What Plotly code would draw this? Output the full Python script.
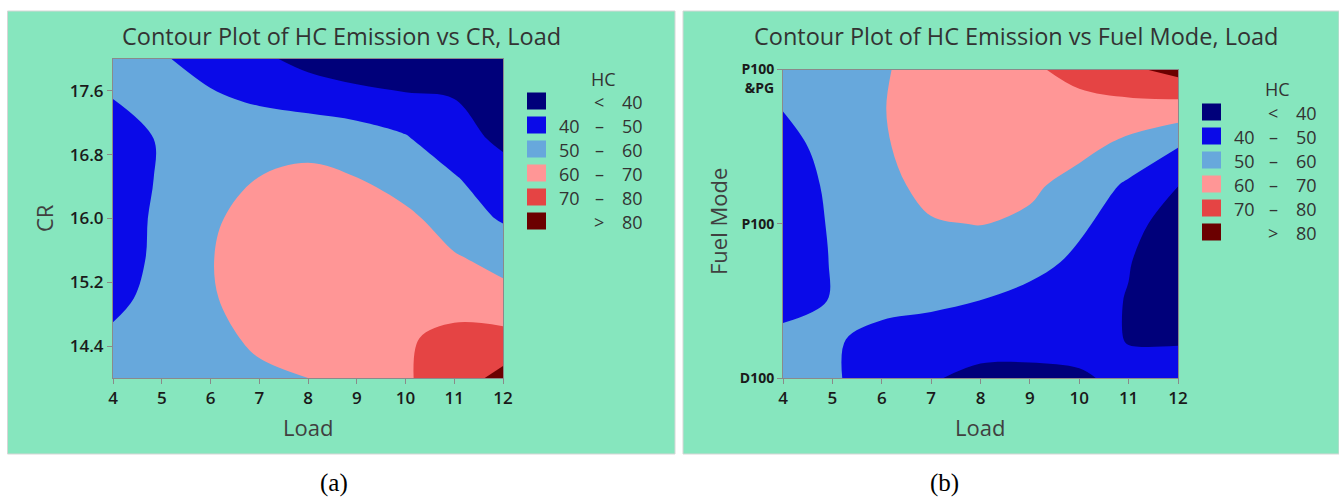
import plotly.graph_objects as go

W, H = 1339, 498

# ---------------- data ----------------
loads = [4, 5, 6, 7, 8, 9, 10, 11, 12]

# (a) HC emission vs CR (rows) and Load (columns)
cr_levels = [14.0, 14.5, 15.0, 15.5, 16.0, 16.5, 17.0, 17.5, 18.0]
hc_cr = [
    [53, 54, 56, 58, 60, 64, 69, 75, 83],
    [52, 55, 57, 62, 66, 68, 69, 72.5, 73],
    [47, 54, 59, 65, 68, 68, 67, 66, 63],
    [44, 53, 59.5, 66, 68, 68, 66, 61, 57],
    [45, 52, 58.5, 64, 66, 65, 62.5, 55, 49],
    [45, 51, 56, 60.2, 62, 60.2, 55, 51, 43],
    [45, 51, 56, 57, 57, 55, 51, 43, 38.5],
    [50, 55, 51.5, 48.5, 46, 44, 42, 40, 36],
    [53, 51, 46, 42, 37, 33, 30, 28, 27],
]

# (b) HC emission vs Fuel Mode (rows, coded 0..2) and Load (columns)
fuel_pos = [0.0, 0.25, 0.5, 0.75, 1.0, 1.25, 1.5, 1.75, 2.0]
hc_fuel = [
    [55, 51, 46, 41, 37, 36, 38.5, 43, 45],
    [53, 51.5, 46, 45, 45, 46, 44.5, 39.5, 39],
    [46, 50.5, 54, 52, 49.9, 46, 44, 39.5, 33],
    [44, 50.5, 55, 57, 57, 54, 47.5, 40.5, 33],
    [44, 51, 55, 59.5, 60.2, 58, 52, 44, 34],
    [44, 52, 58, 62, 63.5, 62, 56, 48.5, 40.2],
    [45, 55, 59, 64, 66, 66, 63, 57, 50.3],
    [50.5, 56, 59.5, 65, 67, 68, 68, 67, 66],
    [55, 57, 59, 64, 67, 69, 72, 78, 83.5],
]

cr_ticks = [14.4, 15.2, 16.0, 16.8, 17.6]
fuel_tickvals = [0, 1, 2]
fuel_ticktext = ["D100", "P100", "<br>P100<br>&PG"]

hc_levels = [40, 50, 60, 70, 80]
band_colors = ["#00007A", "#0A0AE8", "#67A8DC", "#FF9696", "#E54444", "#6B0000"]
legend_lo = ["", "40", "50", "60", "70", ""]
legend_sym = ["<", "–", "–", "–", "–", ">"]
legend_hi = ["40", "50", "60", "70", "80", "80"]

titles = ["Contour Plot of HC Emission vs CR, Load",
          "Contour Plot of HC Emission vs Fuel Mode, Load"]
captions = ["(a)", "(b)"]

# ---------------- helpers ----------------
def fx(px):
    return px / W

def fy(py):
    return 1 - py / H

GREEN = "#86E6BE"
TXT = "#333333"
AXC = "#8a8a8a"
colorscale = [[i / (len(band_colors) - 1), c] for i, c in enumerate(band_colors)]

def contour(x, y, z, xa, ya):
    return go.Contour(
        x=x, y=y, z=z, xaxis=xa, yaxis=ya,
        autocontour=False,
        contours=dict(start=hc_levels[0], end=hc_levels[-1],
                      size=hc_levels[1] - hc_levels[0],
                      coloring="fill", showlines=False),
        line=dict(width=0, smoothing=1.0),
        colorscale=colorscale, showscale=False, hoverinfo="skip",
    )

fig = go.Figure()
fig.add_trace(contour(loads, cr_levels, hc_cr, "x", "y"))
fig.add_trace(contour(loads, fuel_pos, hc_fuel, "x2", "y2"))

tickfont = dict(family="Open Sans", size=17, color="#1a1a1a", weight=600)
axis_common = dict(showline=True, mirror=True, linecolor=AXC, linewidth=1,
                   ticks="outside", ticklen=5, tickcolor=AXC, showgrid=False,
                   zeroline=False, tickfont=tickfont, automargin=False)

fig.update_layout(
    width=W, height=H, margin=dict(l=0, r=0, t=0, b=0, pad=0),
    autosize=False,
    paper_bgcolor="white", plot_bgcolor=GREEN, showlegend=False,
    xaxis=dict(domain=[fx(113), fx(503)], anchor="y", range=[4, 12],
               tickvals=loads, **axis_common),
    yaxis=dict(domain=[fy(378), fy(59)], anchor="x", range=[14, 18],
               tickvals=cr_ticks, tickformat=".1f", **axis_common),
    xaxis2=dict(domain=[fx(783), fx(1178)], anchor="y2", range=[4, 12],
                tickvals=loads, **axis_common),
    yaxis2=dict(domain=[fy(378), fy(69.5)], anchor="x2", range=[0, 2],
                tickvals=fuel_tickvals, ticktext=fuel_ticktext,
                **{**axis_common,
                   "tickfont": dict(family="Open Sans", size=14,
                                    color="#1a1a1a", weight=700)}),
)

shapes = []
annots = []

# panel backgrounds
for x0, x1 in [(7.5, 675), (683, 1339)]:
    shapes.append(dict(type="rect", xref="paper", yref="paper",
                       x0=fx(x0), x1=fx(x1), y0=fy(454), y1=fy(11),
                       fillcolor=GREEN, line=dict(color="#d6d6d6", width=1),
                       layer="below"))

def text(s, px, py, size, color=TXT, family="Open Sans", xanchor="center",
         angle=0):
    annots.append(dict(text=s, x=fx(px), y=fy(py), xref="paper", yref="paper",
                       showarrow=False, xanchor=xanchor, yanchor="middle",
                       textangle=angle,
                       font=dict(family=family, size=size, color=color)))

# titles
text(titles[0], 341, 36, 23.5)
text(titles[1], 1016, 36, 23.5)
# axis titles
text("Load", 308, 427, 22, color="#404040")
text("Load", 980, 427, 22, color="#404040")
text("CR", 44, 218, 22, color="#404040", angle=-90)
text("Fuel Mode", 718, 222, 22, color="#404040", angle=-90)
# captions
text(captions[0], 334, 483, 25, color="black", family="Liberation Serif")
text(captions[1], 945, 483, 25, color="black", family="Liberation Serif")

# legends
for (sw0, row0, hc_x, hc_y, lo_r, sym_c, hi_r) in [
        (527, 101, 603, 79, 582, 599, 645),
        (1202, 112, 1277, 89, 1257, 1273, 1319)]:
    text("HC", hc_x, hc_y, 18)
    for i, col in enumerate(band_colors):
        cy = row0 + 24 * i
        shapes.append(dict(type="rect", xref="paper", yref="paper",
                           x0=fx(sw0), x1=fx(sw0 + 19),
                           y0=fy(cy + 8.5), y1=fy(cy - 8.5),
                           fillcolor=col, line=dict(width=0)))
        if legend_lo[i]:
            text(legend_lo[i], lo_r, cy + 1, 18, xanchor="right")
        text(legend_sym[i], sym_c, cy + 1, 18)
        text(legend_hi[i], hi_r, cy + 1, 18, xanchor="right")

fig.update_layout(shapes=shapes, annotations=annots)
fig.write_html(
    "out.html",
    config={"displayModeBar": False},
    post_script="document.body.style.margin='0px';"
                "document.body.style.overflow='hidden';",
)
